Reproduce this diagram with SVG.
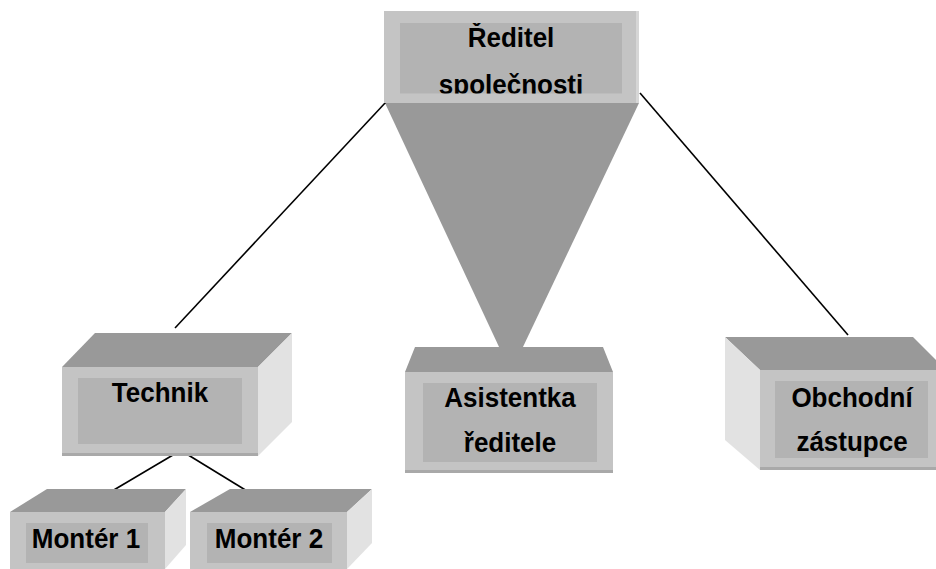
<svg xmlns="http://www.w3.org/2000/svg" width="936" height="569" viewBox="0 0 936 569">
<style>
.top{fill:#999999}
.front{fill:#c4c4c4}
.inner{fill:#b3b3b3}
.side{fill:#e2e2e2}
.edge{fill:#a9a9a9}
.lbl{font-family:"Liberation Sans",Arial,sans-serif;font-weight:bold;font-size:26px;fill:#000;text-anchor:middle}
.conn line{stroke:#000;stroke-width:1.6}
</style>
<defs>
<clipPath id="clipTop"><rect x="400" y="23" width="222" height="70.5"/></clipPath>
</defs>
<rect width="936" height="569" fill="#ffffff"/>

<g id="triangle">
<polygon class="top" points="385,103 639,103 522,349 500,349"/>
</g>

<g class="conn" id="connectors">
<line x1="386" y1="102" x2="175" y2="328"/>
<line x1="640" y1="93" x2="848" y2="335"/>
<line x1="178" y1="452" x2="102" y2="497"/>
<line x1="185" y1="453" x2="260" y2="499"/>
</g>

<g id="reditel">
<rect class="front" x="384" y="11" width="255" height="92"/>
<rect x="636" y="11" width="3" height="92" fill="#d6d6d6"/>
<rect class="inner" x="400" y="23" width="222" height="70.5"/>
<g clip-path="url(#clipTop)">
<text class="lbl" transform="translate(511,47) scale(1,1.08)">Ředitel</text>
<text class="lbl" transform="translate(511,94) scale(1,1.08)">společnosti</text>
</g>
</g>

<g id="technik">
<polygon class="top" points="62,367 95,333 292,333 258,367"/>
<polygon class="side" points="258,367 292,333 292,422 258,456"/>
<rect class="front" x="62" y="367" width="196" height="89"/>
<rect class="edge" x="62" y="453" width="196" height="3"/>
<rect class="inner" x="78" y="378" width="164" height="66"/>
<text class="lbl" transform="translate(160,402) scale(1,1.08)">Technik</text>
</g>

<g id="asistentka">
<polygon class="top" points="415,347 603,347 613,372 405,372"/>
<rect class="front" x="405" y="372" width="208" height="101"/>
<rect class="edge" x="405" y="470" width="208" height="3"/>
<rect class="inner" x="423" y="383" width="174" height="79"/>
<text class="lbl" transform="translate(510,407) scale(1,1.08)">Asistentka</text>
<text class="lbl" transform="translate(510,452) scale(1,1.08)">ředitele</text>
</g>

<g id="obchodni">
<polygon class="top" points="725,337 913,337 946,370 760,370"/>
<polygon class="side" points="725,337 760,370 760,470 725,440"/>
<rect class="front" x="760" y="370" width="186" height="100"/>
<rect class="edge" x="760" y="467" width="186" height="3"/>
<rect class="inner" x="775" y="381" width="153" height="77"/>
<text class="lbl" transform="translate(852,407) scale(1,1.08)">Obchodní</text>
<text class="lbl" transform="translate(852,451) scale(1,1.08)">zástupce</text>
</g>

<g id="monter1">
<polygon class="top" points="47,489 186,489 165,512 10,512"/>
<polygon class="side" points="165,512 186,489 186,545 165,569"/>
<rect class="front" x="10" y="512" width="155" height="57"/>
<rect class="inner" x="26" y="523" width="122" height="40"/>
<text class="lbl" transform="translate(86,548) scale(1,1.08)">Montér 1</text>
</g>

<g id="monter2">
<polygon class="top" points="230,489 372,489 347,512 190,512"/>
<polygon class="side" points="347,512 372,489 372,543 347,569"/>
<rect class="front" x="190" y="512" width="157" height="57"/>
<rect class="inner" x="207" y="523" width="125" height="40"/>
<text class="lbl" transform="translate(269,548) scale(1,1.08)">Montér 2</text>
</g>
</svg>
